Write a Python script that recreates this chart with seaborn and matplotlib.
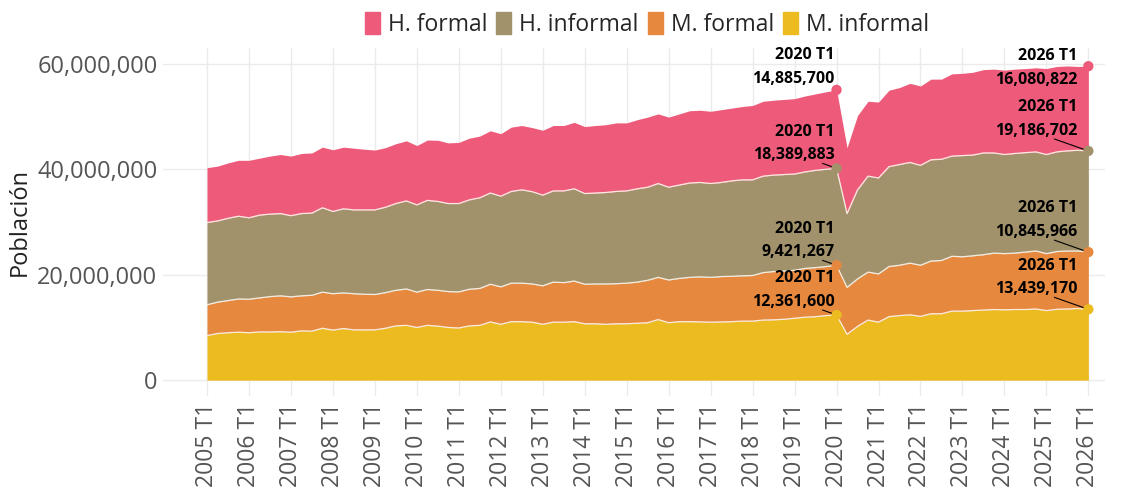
"""
Población ocupada por sexo y formalidad, 2005 T1 - 2026 T1
Stacked area chart
"""

import numpy as np
import pandas as pd
import matplotlib.pyplot as plt
import matplotlib.ticker as mticker
import seaborn as sns

# ── Data (millions of persons, quarterly) ─────────────────────────────────
years = list(range(2005, 2027))
periods = [f'{y} T{t}' for y in years for t in range(1, 5)][:85]

m_informal = [8.46, 8.85, 9.0, 9.1, 9.0, 9.15, 9.15, 9.2, 9.1, 9.35,
              9.3, 9.85, 9.5, 9.8, 9.55, 9.55, 9.55, 9.85, 10.3, 10.4,
              10.0, 10.4, 10.25, 10.0, 9.9, 10.3, 10.4, 11.05, 10.6, 11.1,
              11.1, 11.0, 10.6, 11.0, 11.0, 11.1, 10.7, 10.7, 10.6, 10.7,
              10.7, 10.8, 10.9, 11.5, 10.9, 11.1, 11.1, 11.05, 11.0, 11.05,
              11.1, 11.2, 11.2, 11.4, 11.45, 11.55, 11.75, 11.95, 12.05, 12.25,
              12.3616, 8.7, 10.2, 11.4, 11.0, 12.05, 12.25, 12.4, 12.1, 12.6,
              12.6, 13.1, 13.1, 13.2, 13.3, 13.4, 13.35, 13.4, 13.4, 13.5,
              13.2, 13.45, 13.5, 13.6, 13.43917]
m_formal = [5.84, 5.95, 6.1, 6.3, 6.35, 6.45, 6.7, 6.8, 6.7, 6.65,
            6.8, 6.85, 6.9, 6.75, 6.85, 6.75, 6.7, 6.75, 6.75, 6.9,
            6.7, 6.8, 6.8, 6.8, 6.85, 6.95, 7.0, 7.15, 7.1, 7.3,
            7.3, 7.25, 7.3, 7.6, 7.5, 7.7, 7.5, 7.55, 7.65, 7.6,
            7.7, 7.8, 8.05, 8.0, 8.1, 8.2, 8.4, 8.55, 8.5, 8.6,
            8.6, 8.6, 8.65, 9.0, 9.15, 9.15, 9.1, 9.25, 9.3, 9.3,
            9.421267, 8.9, 9.0, 9.1, 9.15, 9.5, 9.55, 9.8, 9.7, 10.0,
            10.1, 10.4, 10.3, 10.4, 10.5, 10.7, 10.65, 10.7, 10.9, 11.0,
            10.8, 10.95, 11.0, 10.9, 10.845966]
h_informal = [15.6, 15.4, 15.6, 15.7, 15.45, 15.7, 15.65, 15.6, 15.4, 15.6,
              15.6, 16.0, 15.6, 15.95, 15.9, 16.0, 16.05, 16.2, 16.45, 16.7,
              16.55, 16.9, 16.85, 16.7, 16.75, 16.95, 17.2, 17.3, 17.2, 17.4,
              17.7, 17.5, 17.2, 17.3, 17.4, 17.5, 17.2, 17.25, 17.35, 17.5,
              17.5, 17.7, 17.65, 17.8, 17.6, 17.7, 17.9, 17.9, 17.8, 17.85,
              18.1, 18.2, 18.15, 18.3, 18.3, 18.3, 18.25, 18.3, 18.45, 18.45,
              18.389883, 14.0, 16.9, 18.2, 18.2, 18.95, 19.1, 19.1, 18.95, 19.2,
              19.2, 19.0, 19.2, 19.1, 19.3, 19.0, 18.8, 18.9, 18.85, 18.8,
              18.8, 18.9, 19.0, 19.1, 19.186702]
h_formal = [10.4, 10.4, 10.5, 10.6, 10.9, 10.8, 11.0, 11.2, 11.3, 11.4,
            11.4, 11.5, 11.7, 11.7, 11.7, 11.5, 11.35, 11.3, 11.35, 11.4,
            11.25, 11.45, 11.6, 11.5, 11.6, 11.7, 11.7, 11.8, 11.85, 12.2,
            12.2, 12.15, 12.3, 12.4, 12.4, 12.6, 12.7, 12.8, 12.85, 13.0,
            12.9, 13.1, 13.3, 13.2, 13.3, 13.5, 13.7, 13.7, 13.7, 13.8,
            13.8, 13.9, 14.1, 14.2, 14.2, 14.25, 14.3, 14.4, 14.5, 14.7,
            14.8857, 12.5, 14.1, 14.2, 14.4, 14.5, 14.6, 15.0, 15.05, 15.3,
            15.2, 15.6, 15.6, 15.7, 15.8, 15.9, 16.0, 16.0, 15.95, 15.95,
            16.3, 16.2, 16.1, 15.9, 16.080822]

series = ['M. informal', 'M. formal', 'H. informal', 'H. formal']
colors = {'H. formal': '#EE5B7A', 'H. informal': '#A2926C',
          'M. formal': '#E6893F', 'M. informal': '#ECBB1F'}

df = pd.DataFrame({'periodo': periods, 'M. informal': m_informal,
                   'M. formal': m_formal, 'H. informal': h_informal,
                   'H. formal': h_formal})
df['q'] = np.arange(len(df))
for s in series:
    df[s] = df[s] * 1e6
cum = df[series].cumsum(axis=1)

# ── Style ──────────────────────────────────────────────────────────────────
sns.set_theme(style='whitegrid')
plt.rcParams['font.family'] = ['Open Sans', 'DejaVu Sans']
plt.rcParams.update({'grid.color': '#ebebeb', 'grid.linewidth': 1.0})

fig = plt.figure(figsize=(11.23, 4.94), dpi=100)
ax = fig.add_axes([0.1451, 0.1984, 0.839, 0.7044])

ax.stackplot(df['q'], *[df[s] for s in series],
             colors=[colors[s] for s in series], linewidth=0, zorder=2)
for s in series[:-1]:
    sns.lineplot(x=df['q'], y=cum[s], color='#fdf6ec', lw=0.9, ax=ax,
                 zorder=3, alpha=0.9)

# ── Highlighted points ─────────────────────────────────────────────────────
ann_q = {'2020 T1': periods.index('2020 T1'), '2026 T1': periods.index('2026 T1')}
pts = []
for s in series:
    for lab, q in ann_q.items():
        pts.append({'q': q, 'y': cum.loc[q, s], 'serie': s, 'lab': lab,
                    'val': int(round(df.loc[q, s]))})
pts = pd.DataFrame(pts)
sns.scatterplot(data=pts, x='q', y='y', hue='serie', palette=colors,
                s=55, edgecolor='none', legend=False, ax=ax, zorder=5)

for _, r in pts.iterrows():
    txt = f"{r['lab']}\n{r['val']:,}"
    kw = dict(textcoords='offset pixels', ha='right', fontsize=11.5,
              fontweight='bold', color='black', linespacing=1.65,
              multialignment='right', zorder=6)
    if r['lab'] == '2020 T1':
        if r['serie'] == 'H. formal':
            ax.annotate(txt, (r['q'], r['y']), xytext=(-2, 3), va='bottom', **kw)
        else:
            ax.annotate(txt, (r['q'], r['y']), xytext=(-2, 5), va='bottom', **kw)
            ax.annotate('', (r['q'], r['y']), xytext=(-14, 5),
                        textcoords='offset pixels',
                        arrowprops=dict(arrowstyle='-', lw=0.8, color='black',
                                        shrinkA=0, shrinkB=0), zorder=4)
    else:
        if r['serie'] == 'H. formal':
            ax.annotate(txt, (r['q'], r['y']), xytext=(-11, -2), va='center', **kw)
        else:
            ax.annotate(txt, (r['q'], r['y']), xytext=(-11, 12), va='bottom', **kw)
            ax.annotate('', (r['q'], r['y']), xytext=(-34, 12),
                        textcoords='offset pixels',
                        arrowprops=dict(arrowstyle='-', lw=0.8, color='black',
                                        shrinkA=0, shrinkB=0), zorder=4)

# ── Axes ───────────────────────────────────────────────────────────────────
ax.set_xlim(-4.2, 85.6)
ax.set_ylim(-3.0e6, 63.0e6)
ax.set_xticks(df['q'][::4])
ax.set_xticklabels(df['periodo'][::4], rotation=90, fontsize=16.5, color='#555555')
ax.set_yticks([0, 20e6, 40e6, 60e6])
ax.yaxis.set_major_formatter(mticker.FuncFormatter(lambda v, p: f'{int(v):,}'))
ax.tick_params(axis='y', labelsize=17, labelcolor='#555555', pad=4, length=0)
ax.tick_params(axis='x', pad=5, length=0)
ax.set_xlabel('')
ax.set_ylabel('Población', fontsize=17, color='#222222', labelpad=4)
for sp in ax.spines.values():
    sp.set_visible(False)
ax.grid(True, zorder=0)
ax.set_axisbelow(True)

# ── Legend ─────────────────────────────────────────────────────────────────
handles = [plt.Rectangle((0, 0), 1, 1, color=colors[s]) for s in series[::-1]]
fig.legend(handles, series[::-1], loc='upper center', ncol=4, frameon=False,
           bbox_to_anchor=(0.576, 1.017), fontsize=16.5, handlelength=0.65,
           handleheight=1.1, handletextpad=0.35, columnspacing=0.4)

plt.savefig('out.png', dpi=100)
plt.close()
